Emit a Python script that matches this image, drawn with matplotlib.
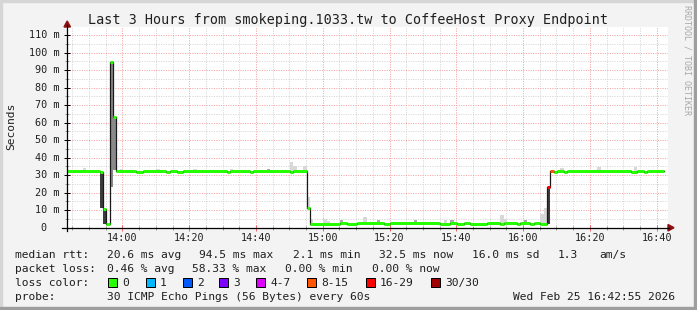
import matplotlib
matplotlib.use("Agg")
import matplotlib.pyplot as plt
import matplotlib.transforms as mtransforms
from matplotlib.patches import Rectangle, Polygon
from matplotlib.lines import Line2D
import numpy as np

# ---------------- data ----------------
title = "Last 3 Hours from smokeping.1033.tw to CoffeeHost Proxy Endpoint"
y_label = "Seconds"
side_text = "RRDTOOL / TOBI OETIKER"

# time axis: minutes relative to 14:00
x_major = [0, 20, 40, 60, 80, 100, 120, 140, 160]
x_labels = ["14:00", "14:20", "14:40", "15:00", "15:20", "15:40", "16:00", "16:20", "16:40"]
x_minor = [-15, -10, -5, 5, 10, 15, 25, 30, 35, 45, 50, 55, 65, 70, 75, 85, 90, 95,
           105, 110, 115, 125, 130, 135, 145, 150, 155]
y_major = [0, 10, 20, 30, 40, 50, 60, 70, 80, 90, 100, 110]
y_labels = ["0  ", "10 m", "20 m", "30 m", "40 m", "50 m", "60 m", "70 m",
            "80 m", "90 m", "100 m", "110 m"]
y_minor = [5, 15, 25, 35, 45, 55, 65, 75, 85, 95, 105]

# median rtt (ms), step series: start minute, value, loss class
median_start = [-17, -7, -6, -5, -4, -3, -2, 4, 6, 13, 14, 16, 18, 31, 32, 38, 39, 50, 51,
                55, 56, 65, 67, 70, 78, 80, 95, 98, 100, 102, 104, 109, 113, 114, 118,
                119, 122, 123, 125, 127, 128, 129, 130, 132, 133, 152, 154, 156, 157]
median_ms = [32.5, 31.8, 10.5, 2.1, 94.5, 63.0, 32.5, 31.9, 32.5, 31.9, 32.5, 31.9, 32.5,
             32.0, 32.5, 31.9, 32.5, 31.8, 32.5,
             11.3, 2.1, 2.8, 2.1, 2.8, 2.1, 2.8, 2.1, 2.8, 2.1, 2.8, 2.1, 2.8, 2.1, 2.8,
             2.1, 2.8, 2.1, 2.8, 2.1, 23.4, 32.5, 31.9, 32.5, 31.9, 32.5, 31.9, 32.5,
             31.9, 32.5]
median_loss = [0] * 39 + [6, 5] + [0] * 8
data_end = 162
sample_phase = 0.2

# smoke (spread of pings) per minute
smoke_minute = [-12, -7, -6, -4, -3, -1, 10, 21, 32, 43, 50, 51, 54, 55,
                56, 60, 61, 65, 72, 76, 87, 96, 98, 113, 114, 120, 125, 126, 127,
                131, 142, 153]
smoke_low = [32.5, 11.0, 2.1, 23.0, 33.0, 32.5, 32.5, 32.5, 32.5, 32.5, 32.5, 32.5, 32.5, 11.3,
             2.1, 2.1, 2.1, 2.8, 2.8, 2.8, 2.8, 2.1, 2.8, 2.1, 2.8, 2.8, 2.1, 2.1, 2.0,
             32.5, 32.5, 32.5]
smoke_high = [34.0, 31.8, 10.5, 94.5, 63.0, 33.6, 33.5, 33.5, 33.6, 33.8, 37.5, 35.5, 35.0, 17.5,
              5.0, 5.0, 3.6, 4.2, 6.2, 4.2, 4.2, 4.2, 4.2, 7.5, 5.0, 4.2, 8.0, 11.0, 23.4,
              34.3, 34.5, 34.5]
smoke_shade = [0, 3, 3, 2, 2, 0, 0, 0, 0, 1, 0, 0, 0, 0,
               0, 0, 0, 1, 0, 1, 1, 0, 1, 0, 0, 1, 0, 0, 3,
               0, 0, 0]
shade_colors = ["#d8d8d8", "#aaaaaa", "#8a8a8a", "#3c3c3c"]

loss_labels = ["0", "1", "2", "3", "4-7", "8-15", "16-29", "30/30"]
loss_colors = ["#26ff00", "#00b8ff", "#0059ff", "#7e00ff", "#dd00ff", "#ff5500", "#ff0000", "#a10000"]

stats_rtt = ["median rtt:", "20.6 ms avg", "94.5 ms max", "2.1 ms min", "32.5 ms now",
             "16.0 ms sd", "1.3", "am/s"]
stats_loss = ["packet loss:", "0.46 % avg", "58.33 % max", "0.00 % min", "0.00 % now"]
probe_text = ["probe:", "30 ICMP Echo Pings (56 Bytes) every 60s", "Wed Feb 25 16:42:55 2026"]

# ---------------- layout (pixels) ----------------
W, H = 697, 310
MONO = "DejaVu Sans Mono"
fig = plt.figure(figsize=(W / 100, H / 100), dpi=100, facecolor="#f3f3f3")


def fx(x):
    return x / W


def fy(y):
    return 1 - y / H


# frame shading
fig.patches.append(Rectangle((0, 0), fx(2), 1, transform=fig.transFigure, color="#d6d6d6", zorder=0))
fig.patches.append(Rectangle((0, fy(2)), 1, 2 / H, transform=fig.transFigure, color="#d6d6d6", zorder=0))
fig.patches.append(Rectangle((fx(694), 0), fx(3), 1, transform=fig.transFigure, color="#9e9e9e", zorder=0))
fig.patches.append(Rectangle((0, 0), 1, 3 / H, transform=fig.transFigure, color="#9e9e9e", zorder=0))

x0, x1, ytop, ybot = 67, 668, 26.7, 227.7
ax = fig.add_axes([fx(x0), fy(ybot), (x1 - x0) / W, (ybot - ytop) / H])
ax.set_facecolor("white")
ax.set_xlim(-16.6, 163.4)
ax.set_ylim(0, (ybot - ytop) / 1.75)
for s in ax.spines.values():
    s.set_visible(False)

ax.set_xticks(x_major)
ax.set_xticks(x_minor, minor=True)
ax.set_yticks(y_major)
ax.set_yticks(y_minor, minor=True)
ax.tick_params(labelbottom=False, labelleft=False)
ax.tick_params(axis="y", which="major", direction="inout", length=4.3, width=0.72, color="black")
ax.tick_params(axis="y", which="minor", direction="inout", length=2.2, width=0.72, color="#999999")
ax.tick_params(axis="x", which="major", direction="inout", length=4.3, width=0.72, color="#ee6666")
ax.tick_params(axis="x", which="minor", direction="inout", length=2.2, width=0.72, color="#999999")
ax.set_axisbelow(True)
ax.grid(True, which="minor", color="#d4d4d4", linestyle=(0, (1, 1.4)), linewidth=0.72)
ax.grid(True, which="major", color="#f5a0a0", linestyle=(0, (1, 1.4)), linewidth=0.72)

# smoke
sm = np.array(smoke_minute) + sample_phase
lo = np.array(smoke_low)
hi = np.array(smoke_high)
ax.bar(sm, hi - lo, bottom=lo, width=1.0, align="edge",
       color=[shade_colors[s] for s in smoke_shade], linewidth=0, zorder=2)

# median
starts = np.array(median_start, dtype=float) + sample_phase
ends = np.r_[starts[1:], data_end + sample_phase]
vals = np.array(median_ms)
ax.plot(np.r_[starts, ends[-1]], np.r_[vals, vals[-1]], drawstyle="steps-post",
        color="#1a1a1a", linewidth=0.9, zorder=3)
ax.hlines(vals, starts, ends, colors=[loss_colors[l] for l in median_loss],
          linewidth=2.16, zorder=4)

# axis lines and arrows
fig.add_artist(Line2D([fx(67), fx(67)], [fy(231), fy(25)], color="black", lw=0.9, transform=fig.transFigure))
fig.add_artist(Line2D([fx(62), fx(669)], [fy(ybot), fy(ybot)], color="black", lw=0.9, transform=fig.transFigure))
fig.add_artist(Polygon([[fx(64), fy(27)], [fx(70.5), fy(27)], [fx(67.2), fy(21)]],
                       closed=True, transform=fig.transFigure, color="#8b1010"))
fig.add_artist(Polygon([[fx(668), fy(224.5)], [fx(668), fy(231)], [fx(674), fy(227.7)]],
                       closed=True, transform=fig.transFigure, color="#8b1010"))

# tick labels
tx = mtransforms.blended_transform_factory(ax.transData, fig.transFigure)
for m, lab in zip(x_major, x_labels):
    ax.text(m, fy(240.8), lab, transform=tx, ha="center", va="baseline",
            fontsize=7.3, family=MONO, color="#202020")
ty = mtransforms.blended_transform_factory(fig.transFigure, ax.transData)
for v, lab in zip(y_major, y_labels):
    ax.text(fx(59.8), v, lab, transform=ty, ha="right", va="center",
            fontsize=7.3, family=MONO, color="#202020")

# title and side texts
fig.text(fx(348.5), fy(24), title, ha="center", va="baseline", fontsize=9.75, family=MONO, color="#202020")
fig.text(fx(11), fy(126), y_label, rotation=90, ha="center", va="center", fontsize=8.1, family=MONO, color="#202020")
fig.text(fx(687.3), fy(60), side_text, rotation=270, ha="center", va="center", fontsize=6.0, family=MONO, color="#a8a8a8")

# legend lines
rtt_x = [16, 107.3, 200, 293.3, 379.3, 472.3, 558.3, 600]
loss_x = [16, 107.3, 192.7, 285.7, 372.3]
probe_x = [16, 107.3, 513.3]
for s, x in zip(stats_rtt, rtt_x):
    fig.text(fx(x - 0.7), fy(258.4), s, ha="left", va="baseline", fontsize=8.1, family=MONO, color="#202020")
for s, x in zip(stats_loss, loss_x):
    fig.text(fx(x - 0.7), fy(272.2), s, ha="left", va="baseline", fontsize=8.1, family=MONO, color="#202020")
fig.text(fx(16 - 0.7), fy(286.0), "loss color:", ha="left", va="baseline", fontsize=8.1, family=MONO, color="#202020")
box_x = [108.3, 145.7, 182.7, 219.3, 256, 306.7, 365.7, 430.7]
for bx, lab, col in zip(box_x, loss_labels, loss_colors):
    fig.patches.append(Rectangle((fx(bx), fy(287)), fx(9), 9 / H, transform=fig.transFigure,
                                 facecolor=col, edgecolor="black", linewidth=0.72))
    fig.text(fx(bx + 14.3), fy(286.0), lab, ha="left", va="baseline", fontsize=8.1, family=MONO, color="#202020")
for s, x in zip(probe_text, probe_x):
    fig.text(fx(x - 0.7), fy(299.8), s, ha="left", va="baseline", fontsize=8.1, family=MONO, color="#202020")

fig.savefig("out.png", dpi=100, facecolor=fig.get_facecolor())
